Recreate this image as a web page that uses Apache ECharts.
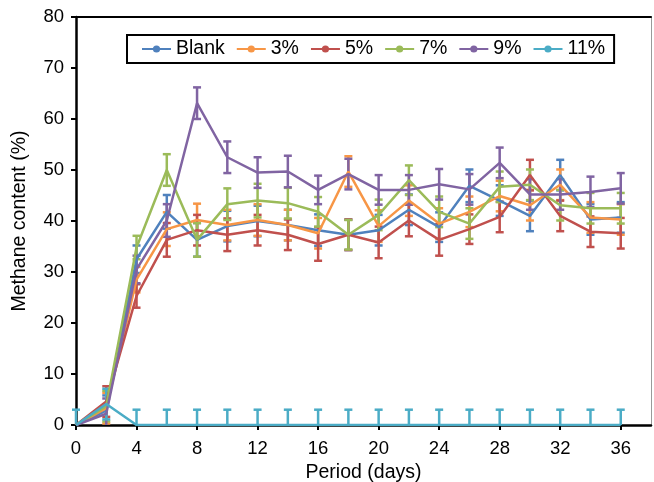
<!DOCTYPE html>
<html>
<head>
<meta charset="utf-8">
<script src="https://cdn.jsdelivr.net/npm/echarts@6/dist/echarts.min.js"></script>
<style>html,body{margin:0;padding:0;background:#fff}#c{width:654px;height:482px}</style>
</head>
<body>
<div id="c"></div>
<script>
const days = [0, 2, 4, 6, 8, 10, 12, 14, 16, 18, 20, 22, 24, 26, 28, 30, 32, 34, 36];
const xTicks = [0, 4, 8, 12, 16, 20, 24, 28, 32, 36];
const seriesNames = ['Blank', '3%', '5%', '7%', '9%', '11%'];

const blank = [0, 2.8, 32.5, 41.8, 36.3, 39.0, 40.0, 39.2, 38.2, 37.3, 38.2, 42.2, 38.8, 46.9, 44.0, 41.0, 49.0, 40.3, 40.7];
const pct3  = [0, 3.3, 28.5, 38.4, 40.2, 39.2, 40.2, 39.2, 37.6, 49.7, 39.0, 44.0, 39.5, 41.8, 44.9, 43.1, 47.1, 40.7, 40.3];
const pct5  = [0, 4.6, 25.3, 36.3, 38.2, 37.3, 38.2, 37.3, 35.5, 37.3, 35.8, 40.1, 36.3, 38.4, 40.8, 49.0, 41.0, 37.9, 37.6];
const pct7  = [0, 3.7, 34.8, 50.0, 36.3, 43.3, 44.0, 43.5, 41.8, 37.3, 41.2, 48.0, 41.8, 39.5, 46.7, 47.1, 43.1, 42.5, 42.5];
const pct9  = [0, 2.2, 30.5, 40.1, 63.1, 52.5, 49.5, 49.7, 46.1, 49.2, 46.1, 46.1, 47.2, 46.2, 51.4, 45.2, 45.2, 45.7, 46.4];
const pct11 = [0, 4.1, 0, 0, 0, 0, 0, 0, 0, 0, 0, 0, 0, 0, 0, 0, 0, 0, 0];

const errBlank = [0, 3, 2.7, 3.3, 3.3, 3, 3, 3, 3.1, 3, 3, 3, 2.9, 3.2, 3, 3, 3, 3, 3];
const err3     = [0, 3, 2.5, 3.3, 3.2, 3, 3.1, 3, 3, 3, 3.1, 3, 3, 3, 3, 3, 3, 3, 3];
const err5     = [0, 3, 2.3, 3.3, 3, 3.2, 3, 3, 3.3, 3, 3.1, 3.1, 3.1, 2.9, 3, 3, 3, 3, 3];
const err7     = [0, 3, 2.3, 3.1, 3.3, 3.1, 3.3, 3, 2.9, 2.9, 3, 2.9, 3, 3, 3, 3, 3, 3, 3];
const err9     = [0, 3, 2.7, 3.2, 3.1, 3.1, 3, 3.1, 2.8, 3, 2.9, 2.9, 3, 3, 3, 3, 3, 3, 3];
const err11    = [3, 3, 3, 3, 3, 3, 3, 3, 3, 3, 3, 3, 3, 3, 3, 3, 3, 3, 3];

const values = [blank, pct3, pct5, pct7, pct9, pct11];
const errors = [errBlank, err3, err5, err7, err9, err11];
const colors = ['#4F81BD', '#F79646', '#C0504D', '#9BBB59', '#8064A2', '#4BACC6'];

const FONT = '"Liberation Sans", Arial, Helvetica, sans-serif';

const series = [];
seriesNames.forEach((name, i) => {
  series.push({
    name: name,
    type: 'line',
    data: days.map((d, k) => [d, values[i][k]]),
    symbol: 'circle',
    symbolSize: 8,
    showSymbol: false,
    lineStyle: { color: colors[i], width: 2.5 },
    itemStyle: { color: colors[i] },
    animation: false
  });
  series.push({
    name: name,
    type: 'custom',
    data: days.map((d, k) => [d, values[i][k], errors[i][k]]),
    itemStyle: { color: colors[i] },
    animation: false,
    renderItem: function (params, api) {
      const x = api.value(0), y = api.value(1), e = api.value(2);
      if (!e) return null;
      const lowV = Math.max(0, y - e);
      const hi = api.coord([x, y + e]);
      const lo = api.coord([x, lowV]);
      const hw = 4;
      const st = { stroke: colors[i], lineWidth: 2.5 };
      const children = [
        { type: 'line', shape: { x1: hi[0], y1: hi[1], x2: lo[0], y2: lo[1] }, style: st },
        { type: 'line', shape: { x1: hi[0] - hw, y1: hi[1], x2: hi[0] + hw, y2: hi[1] }, style: st }
      ];
      if (y - e >= 0) {
        children.push({ type: 'line', shape: { x1: lo[0] - hw, y1: lo[1], x2: lo[0] + hw, y2: lo[1] }, style: st });
      }
      return { type: 'group', children: children };
    }
  });
});

const chart = echarts.init(document.getElementById('c'), null, { renderer: 'canvas' });
chart.setOption({
  animation: false,
  textStyle: { fontFamily: FONT, color: '#000' },
  grid: { left: 76, right: 3, top: 17, bottom: 57, containLabel: false, outerBoundsMode: 'none' },
  legend: {
    data: seriesNames,
    left: 127,
    top: 35,
    orient: 'horizontal',
    itemWidth: 29,
    itemHeight: 9,
    itemGap: 11,
    padding: [4, 9, 4, 14],
    borderColor: '#000',
    borderWidth: 2,
    backgroundColor: '#fff',
    textStyle: { fontFamily: FONT, fontSize: 19.5, color: '#000' }
  },
  xAxis: [{
    type: 'value',
    min: 0,
    max: 38,
    interval: 4,
    name: 'Period (days)',
    nameLocation: 'middle',
    nameGap: 38,
    nameTextStyle: { fontFamily: FONT, fontSize: 19.5, color: '#000' },
    axisLine: { onZero: false, lineStyle: { color: '#000', width: 2.5 } },
    axisTick: { show: true, length: 5, lineStyle: { color: '#000', width: 2 }, customValues: xTicks },
    axisLabel: { fontFamily: FONT, fontSize: 18.5, color: '#000', margin: 14, customValues: xTicks },
    splitLine: { show: false }
  }, {
    type: 'value',
    position: 'top',
    min: 0,
    max: 38,
    axisLine: { show: true, onZero: false, lineStyle: { color: '#000', width: 2 } },
    axisTick: { show: false },
    axisLabel: { show: false },
    splitLine: { show: false }
  }],
  yAxis: [{
    type: 'value',
    min: 0,
    max: 80,
    interval: 10,
    name: 'Methane content (%)',
    nameLocation: 'middle',
    nameGap: 46,
    nameTextStyle: { fontFamily: FONT, fontSize: 19.5, color: '#000' },
    axisLine: { show: true, onZero: false, lineStyle: { color: '#000', width: 2.5 } },
    axisTick: { show: true, length: 5, lineStyle: { color: '#000', width: 2 } },
    axisLabel: { fontFamily: FONT, fontSize: 18.5, color: '#000', margin: 12 },
    splitLine: { show: false }
  }, {
    type: 'value',
    position: 'right',
    min: 0,
    max: 80,
    axisLine: { show: true, onZero: false, lineStyle: { color: '#9a9a9a', width: 1 } },
    axisTick: { show: false },
    axisLabel: { show: false },
    splitLine: { show: false }
  }],
  series: series
});
</script>
</body>
</html>
